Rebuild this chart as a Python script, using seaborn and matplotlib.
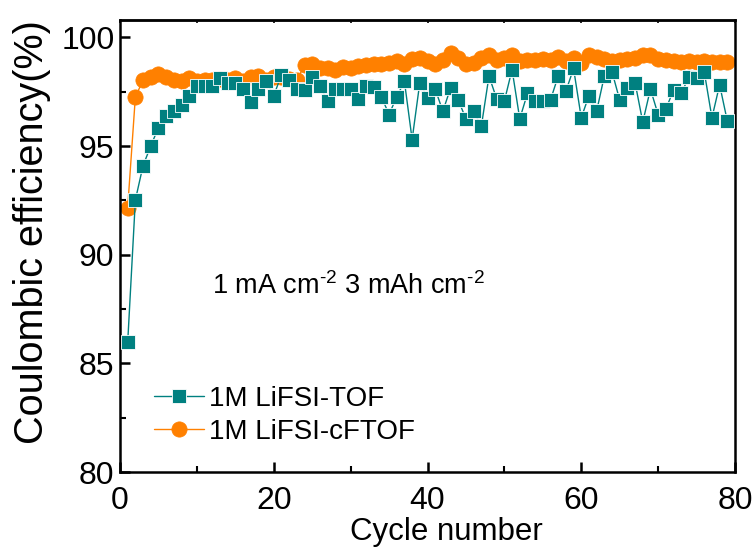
import pandas as pd
import matplotlib
matplotlib.use("Agg")
import matplotlib.pyplot as plt
import seaborn as sns
from matplotlib.ticker import MultipleLocator

# values
cycles = list(range(1, 80))
ce_tof = [85.96, 92.52, 94.10, 95.00, 95.85, 96.40, 96.60, 96.90, 97.32, 97.77,
          97.77, 97.77, 98.12, 97.92, 97.92, 97.62, 97.02, 97.62, 97.97, 97.32,
          98.27, 98.02, 97.62, 97.57, 98.17, 97.77, 97.07, 97.62, 97.62, 97.62,
          97.17, 97.77, 97.72, 97.27, 96.45, 97.27, 97.97, 95.30, 97.92, 97.22,
          97.62, 96.60, 97.67, 97.12, 96.25, 96.60, 95.90, 98.22, 97.17, 97.07,
          98.52, 96.25, 97.42, 97.07, 97.07, 97.12, 98.22, 97.52, 98.57, 96.30,
          97.32, 96.60, 98.22, 98.42, 97.12, 97.67, 97.92, 96.10, 97.62, 96.45,
          96.70, 97.57, 97.42, 98.17, 98.12, 98.42, 96.30, 97.82, 96.15]
ce_cftof = [92.17, 97.27, 98.02, 98.17, 98.32, 98.17, 98.02, 97.97, 98.12, 97.97,
            98.02, 98.02, 98.07, 98.02, 98.12, 97.97, 98.17, 98.22, 98.02, 98.17,
            98.17, 98.07, 98.02, 98.72, 98.77, 98.57, 98.57, 98.52, 98.62, 98.57,
            98.67, 98.72, 98.77, 98.77, 98.82, 98.92, 98.77, 99.02, 99.07, 98.92,
            98.77, 98.97, 99.27, 99.07, 98.77, 98.82, 99.07, 99.17, 98.97, 99.07,
            99.17, 98.92, 98.97, 98.97, 99.02, 98.97, 99.12, 98.92, 99.07, 98.82,
            99.17, 99.12, 99.02, 98.92, 98.97, 99.02, 99.07, 99.17, 99.17, 99.02,
            98.97, 98.92, 98.87, 98.92, 98.87, 98.92, 98.87, 98.87, 98.87]

df = pd.DataFrame({"Cycle": cycles, "TOF": ce_tof, "cFTOF": ce_cftof})

TEAL = "#008080"
ORANGE = "#FF8000"

sns.set_style("ticks")
plt.rcParams["font.family"] = ["Liberation Sans", "DejaVu Sans"]
plt.rcParams["mathtext.fontset"] = "custom"
plt.rcParams["mathtext.rm"] = "Liberation Sans"
plt.rcParams["mathtext.it"] = "Liberation Sans:italic"
for key in ["text.color", "axes.labelcolor", "xtick.color", "ytick.color"]:
    plt.rcParams[key] = "black"

fig = plt.figure(figsize=(7.55, 5.52), dpi=100)
ax = fig.add_axes([120 / 755, 1 - 472 / 552, 615 / 755, 452 / 552])

sns.lineplot(data=df, x="Cycle", y="cFTOF", ax=ax, color=ORANGE, marker="o",
             markersize=11, markeredgecolor=ORANGE, markeredgewidth=0.5,
             linewidth=1, label="1M LiFSI-cFTOF", zorder=2)
sns.lineplot(data=df, x="Cycle", y="TOF", ax=ax, color=TEAL, marker="s",
             markersize=9.8, markeredgecolor="white", markeredgewidth=0.6,
             linewidth=1, label="1M LiFSI-TOF", zorder=3)

ax.set_xlim(0, 80)
ax.set_ylim(80, 100.8)
ax.xaxis.set_major_locator(MultipleLocator(20))
ax.xaxis.set_minor_locator(MultipleLocator(10))
ax.yaxis.set_major_locator(MultipleLocator(5))
ax.yaxis.set_minor_locator(MultipleLocator(2.5))

for side in ["left", "bottom", "top", "right"]:
    ax.spines[side].set_linewidth(1.8)
    ax.spines[side].set_color("black")
ax.tick_params(which="major", direction="in", length=7, width=1.8,
               labelsize=23, left=True, bottom=True, top=False, right=False)
ax.tick_params(which="minor", direction="in", length=4, width=1.5,
               left=True, bottom=True, top=False, right=False)
ax.tick_params(axis="y", which="major", pad=4)
ax.tick_params(axis="x", which="major", pad=10)

# short marks along the top edge
top = ax.secondary_xaxis("top")
top.set_xticks(range(0, 81, 10))
top.tick_params(direction="in", length=2.5, width=1.2, labeltop=False)
top.spines["top"].set_linewidth(1.8)

ax.set_xlabel("Cycle number", fontsize=22.5, va="top")
ax.xaxis.set_label_coords(0.53, -0.099)
ax.set_ylabel("Coulombic efficiency(%)", fontsize=28.5)
ax.yaxis.set_label_coords(-0.112, 0.53)

ax.text(12, 88.2, r"1 mA cm$^{\text{-2}}$ 3 mAh cm$^{\text{-2}}$", fontsize=19.5,
        va="baseline")

handles, labels = ax.get_legend_handles_labels()
ax.legend(handles[::-1], labels[::-1], loc="lower left", frameon=False,
          fontsize=20, bbox_to_anchor=(0.037, 0.035), handlelength=1.8,
          handletextpad=0.2, labelspacing=0.25, borderaxespad=0)

fig.savefig("out.png", dpi=100)
